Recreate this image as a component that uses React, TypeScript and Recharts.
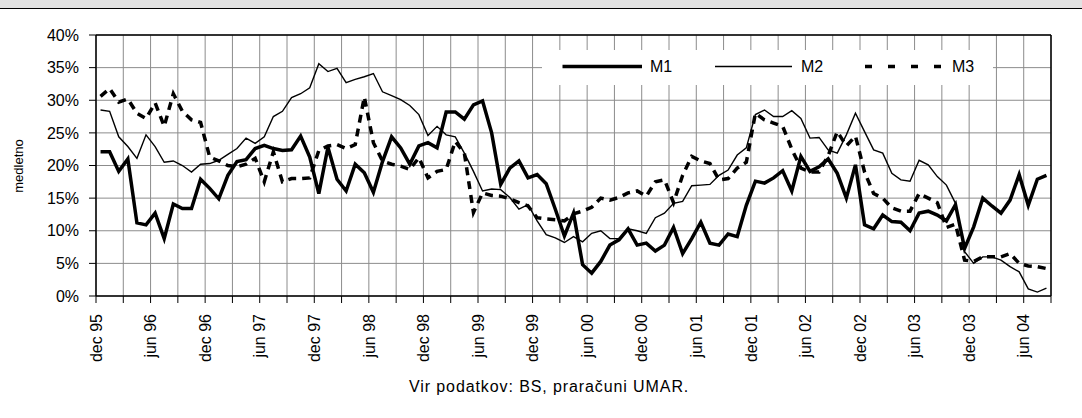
import React from 'react';
import { LineChart, Line, XAxis, YAxis, CartesianGrid, Legend, ReferenceLine } from 'recharts';

// x-axis labels, one per 6 months, starting at "dec 95"
const tickLabels = [
  'dec 95', 'jun 96', 'dec 96', 'jun 97', 'dec 97', 'jun 98', 'dec 98', 'jun 99', 'dec 99',
  'jun 00', 'dec 00', 'jun 01', 'dec 01', 'jun 02', 'dec 02', 'jun 03', 'dec 03', 'jun 04',
];

// monthly year-on-year growth (%), dec 95 .. aug 04
const m1 = [
  22.1, 22.1, 19.1, 21.0, 11.2, 10.9, 12.7, 8.8, 14.1, 13.4,
  13.4, 17.9, 16.5, 14.9, 18.5, 20.6, 20.9, 22.6, 23.1, 22.6,
  22.3, 22.4, 24.5, 21.3, 15.7, 22.8, 17.9, 16.1, 20.2, 18.9,
  15.9, 20.6, 24.4, 22.7, 20.2, 23.0, 23.5, 22.7, 28.2, 28.2,
  27.1, 29.3, 29.9, 25.0, 17.1, 19.6, 20.7, 18.1, 18.6, 17.2,
  13.3, 9.2, 12.7, 4.8, 3.5, 5.3, 7.8, 8.6, 10.3, 7.8,
  8.1, 6.9, 7.8, 10.5, 6.5, 8.8, 11.3, 8.1, 7.8, 9.5,
  9.1, 13.9, 17.6, 17.3, 18.1, 19.2, 16.1, 21.4, 19.1, 19.8,
  21.0, 18.8, 15.0, 20.1, 10.9, 10.3, 12.4, 11.4, 11.3, 10.0,
  12.7, 13.0, 12.4, 11.5, 14.0, 7.3, 10.6, 15.0, 13.8, 12.7,
  14.7, 18.6, 13.9, 17.9, 18.5,
];

const m2 = [
  28.5, 28.3, 24.4, 22.9, 21.1, 24.7, 22.9, 20.5, 20.7, 20.0,
  19.0, 20.2, 20.3, 20.8, 21.7, 22.6, 24.2, 23.4, 24.4, 27.5,
  28.3, 30.4, 31.0, 31.9, 35.6, 34.4, 34.9, 32.7, 33.2, 33.6,
  34.1, 31.3, 30.7, 30.1, 29.2, 27.8, 24.6, 26.0, 24.7, 24.4,
  21.9, 19.1, 16.1, 16.4, 16.3, 15.1, 13.3, 14.0, 11.5, 9.4,
  8.9, 8.2, 9.1, 8.3, 9.6, 10.0, 8.8, 8.8, 10.3, 10.0,
  9.6, 12.0, 12.7, 14.2, 14.5, 16.9, 17.0, 17.1, 18.5, 19.3,
  21.6, 22.7, 27.8, 28.5, 27.5, 27.5, 28.4, 27.2, 24.2, 24.3,
  22.4, 21.9, 24.7, 28.0, 25.2, 22.4, 21.9, 18.8, 17.8, 17.6,
  20.8, 20.1, 18.3, 17.0, 14.2, 6.8, 5.0, 6.0, 6.0, 5.5,
  4.5, 3.7, 1.1, 0.6, 1.2,
];

const m3 = [
  30.6, 31.8, 29.7, 30.2, 28.0, 27.2, 29.6, 26.0, 31.0, 28.3,
  27.0, 26.6, 21.3, 20.7, 20.0, 19.8, 20.2, 21.1, 17.5, 22.1,
  17.5, 18.0, 18.0, 18.1, 22.3, 23.0, 23.2, 22.6, 23.2, 30.5,
  23.5, 20.7, 20.2, 19.9, 19.4, 21.2, 18.1, 19.1, 19.4, 23.7,
  21.9, 12.8, 15.8, 15.4, 15.3, 14.9, 14.3, 13.8, 12.0, 11.8,
  11.7, 11.5, 12.6, 13.0, 13.6, 15.0, 14.7, 15.1, 15.8, 16.1,
  15.3, 17.5, 17.8, 14.3, 18.5, 21.4, 20.7, 20.3, 17.8, 18.0,
  19.6, 20.5, 28.0, 27.0, 26.5, 26.0, 22.5, 19.6, 19.0, 19.0,
  21.5, 25.2, 23.0, 24.5, 19.0, 15.7, 15.0, 13.5, 13.0, 13.0,
  15.7, 15.0, 14.3, 10.5, 11.0, 5.5, 5.3, 6.0, 6.0, 6.0,
  6.5, 5.0, 4.6, 4.5, 4.2,
];

const yTicks = [0, 5, 10, 15, 20, 25, 30, 35, 40];
const monthCount = m1.length; // categories on the axis
const xTicks = Array.from({ length: monthCount / 3 + 1 }, (_, i) => i * 3);

const data = m1.map((v, i) => ({ x: i + 0.5, m1: v, m2: m2[i], m3: m3[i] }));

const FONT = '"Liberation Sans", Arial, Helvetica, sans-serif';

function XTick(props: any) {
  const { x, y, payload } = props;
  const v = payload.value;
  if (v % 6 !== 0) return null;
  const label = tickLabels[v / 6];
  if (!label) return null;
  return (
    <text
      x={x}
      y={y}
      transform={`rotate(-90, ${x}, ${y})`}
      textAnchor="end"
      dy="0.36em"
      fontSize={16}
      fontFamily={FONT}
      fill="#000"
    >
      {label}
    </text>
  );
}

function LegendContent() {
  return (
    <svg width={451} height={35} style={{ display: 'block' }}>
      <line x1={20.5} x2={100} y1={16.5} y2={16.5} stroke="#000" strokeWidth={3.5} />
      <text x={108} y={22} fontSize={16} fontFamily={FONT} fill="#000">M1</text>
      <line x1={173} x2={250} y1={16.5} y2={16.5} stroke="#000" strokeWidth={1.4} />
      <text x={259} y={22} fontSize={16} fontFamily={FONT} fill="#000">M2</text>
      <line x1={323} x2={401} y1={16.5} y2={16.5} stroke="#000" strokeWidth={3.5} strokeDasharray="7 16" />
      <text x={410} y={22} fontSize={16} fontFamily={FONT} fill="#000">M3</text>
    </svg>
  );
}

export default function App() {
  return (
    <div
      style={{
        position: 'absolute',
        left: 0,
        top: 0,
        width: 1082,
        height: 418,
        background: '#fff',
        overflow: 'hidden',
        fontFamily: FONT,
      }}
    >
      <LineChart
        width={1082}
        height={418}
        data={data}
        margin={{ top: 35, right: 31, bottom: 62, left: 0 }}
      >
        <CartesianGrid stroke="#8c8c8c" strokeWidth={1} />
        <XAxis
          dataKey="x"
          type="number"
          domain={[0, monthCount]}
          ticks={xTicks}
          interval={0}
          height={60}
          tickSize={7}
          tickMargin={11}
          tick={<XTick />}
          axisLine={{ stroke: '#000', strokeWidth: 1.5 }}
          tickLine={{ stroke: '#000', strokeWidth: 1 }}
        />
        <YAxis
          type="number"
          domain={[0, 40]}
          ticks={yTicks}
          interval={0}
          width={96}
          tickSize={7}
          tickMargin={10}
          tickFormatter={(v: number) => `${v}%`}
          tick={{ fill: '#000', fontSize: 16, fontFamily: FONT }}
          axisLine={{ stroke: '#000', strokeWidth: 1.5 }}
          tickLine={{ stroke: '#000', strokeWidth: 1 }}
        />
        <ReferenceLine y={40} stroke="#000" strokeWidth={1.5} />
        <ReferenceLine x={monthCount} stroke="#000" strokeWidth={1.5} />
        <Line type="linear" dataKey="m1" name="M1" stroke="#000" strokeWidth={3.5} dot={false} activeDot={false} isAnimationActive={false} />
        <Line type="linear" dataKey="m2" name="M2" stroke="#000" strokeWidth={1.4} dot={false} activeDot={false} isAnimationActive={false} />
        <Line type="linear" dataKey="m3" name="M3" stroke="#000" strokeWidth={3.5} strokeDasharray="8 6" dot={false} activeDot={false} isAnimationActive={false} />
        <Legend
          layout="horizontal"
          verticalAlign="middle"
          align="center"
          content={<LegendContent />}
          wrapperStyle={{ position: 'absolute', left: 542, top: 50, width: 451, height: 35, background: '#fff' }}
        />
      </LineChart>
      <div
        style={{
          position: 'absolute',
          left: 0,
          top: 0,
          width: 1082,
          height: 8,
          background: '#e2e2e2',
          borderBottom: '1.5px solid #000',
        }}
      />
      <div
        style={{
          position: 'absolute',
          left: 18,
          top: 165.5,
          transform: 'translate(-50%, -50%) rotate(-90deg)',
          fontSize: 13,
          lineHeight: '13px',
          whiteSpace: 'nowrap',
          color: '#000',
        }}
      >
        medletno
      </div>
      <div
        style={{
          position: 'absolute',
          left: 409,
          top: 379,
          fontSize: 16,
          lineHeight: '16px',
          letterSpacing: '0.9px',
          whiteSpace: 'nowrap',
          color: '#000',
        }}
      >
        Vir podatkov: BS, praračuni UMAR.
      </div>
    </div>
  );
}
